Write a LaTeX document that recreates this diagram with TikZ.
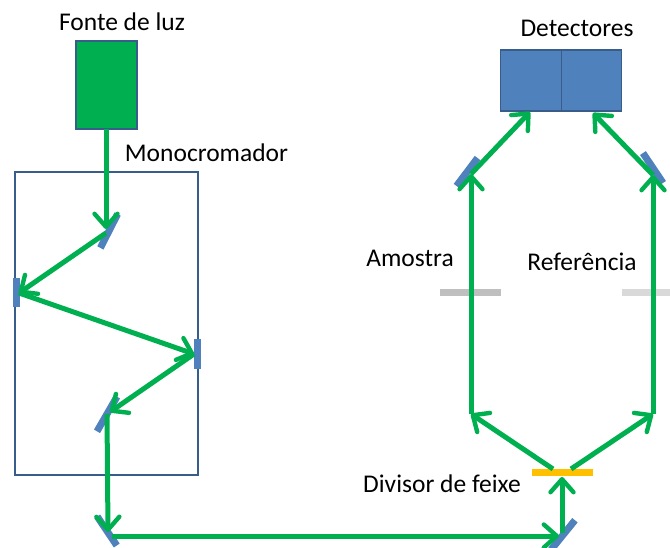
\documentclass[tikz,border=0pt]{standalone}
\usepackage{fontspec}
\setmainfont{Carlito}
\usetikzlibrary{arrows.meta}
\definecolor{beam}{HTML}{00B050}
\definecolor{optic}{HTML}{4F81BD}
\definecolor{edge}{HTML}{385D8A}
\definecolor{split}{HTML}{FFC000}
\definecolor{samplebar}{HTML}{BFBFBF}
\definecolor{refbar}{HTML}{D9D9D9}
\tikzset{
  lbl/.style={inner sep=0pt,font=\fontsize{25.5}{28}\selectfont,text=black},
  mirror/.style={fill=optic,inner sep=0pt,minimum height=7pt,minimum width=#1},
  barshape/.style={inner sep=0pt,minimum height=7pt,minimum width=61pt},
  ray/.style={draw=beam,line width=5pt,-{Straight Barb[length=13pt,width=23pt,line width=4.4pt,round]}},
  frame/.style={draw=edge,line width=1.4pt,inner sep=0pt}
}
\begin{document}
\begin{tikzpicture}[x=1pt,y=-1pt]
\useasboundingbox (0,0) rectangle (670,548);
% boxes
\node[frame,fill=beam,minimum width=61pt,minimum height=88pt] (source) at (106.5,85) {};
\node[frame,minimum width=183pt,minimum height=303pt] (mono) at (106.5,323.5) {};
\node[frame,fill=optic,minimum width=60.5pt,minimum height=61pt] (detA) at (531,80.5) {};
\node[frame,fill=optic,minimum width=60.5pt,minimum height=61pt] (detB) at (591.5,80.5) {};
% optics
\node[mirror=38pt,rotate=63] (m1) at (109,231) {};
\node[mirror=29pt,rotate=90] (m2) at (16,293) {};
\node[mirror=29pt,rotate=90] (m3) at (197,354) {};
\node[mirror=40pt,rotate=60] (m4) at (107,414) {};
\node[mirror=35pt,rotate=-56] (m5) at (107,531) {};
\node[mirror=38pt,rotate=51] (m6) at (563,535) {};
\node[mirror=35pt,rotate=53] (m7) at (467,172) {};
\node[mirror=36pt,rotate=-56] (m8) at (653,168) {};
\node[barshape,fill=split] (divider) at (562.5,472.5) {};
\node[barshape,fill=samplebar] (sample) at (470.5,293) {};
\node[inner sep=0pt,minimum height=7pt,minimum width=48pt,fill=refbar] (reference) at (646,293) {};
% beam points
\coordinate (srcOut) at (106,129);
\coordinate (p1) at (106,229);
\coordinate (p1b) at (106,233);
\coordinate (p2) at (19,293);
\coordinate (p3) at (194,354);
\coordinate (p4) at (110,412);
\coordinate (p4b) at (107,414);
\coordinate (p5) at (108,532);
\coordinate (p5b) at (112,536);
\coordinate (p6) at (559,536);
\coordinate (p6b) at (562,533);
\coordinate (p7) at (562,477);
\coordinate (p8a) at (553,469);
\coordinate (p8b) at (571,469);
\coordinate (p9) at (471,414);
\coordinate (p10) at (653,414);
\coordinate (p11) at (471,174);
\coordinate (p12) at (653,175);
\coordinate (p13) at (530,112);
\coordinate (p14) at (593,113);
% beams
\draw[ray] (srcOut) -- (p1);
\draw[ray] (p1b) -- (p2);
\draw[ray] (p2) -- (p3);
\draw[ray] (p3) -- (p4);
\draw[ray] (p4b) -- (p5);
\draw[ray] (p5b) -- (p6);
\draw[ray] (p6b) -- (p7);
\draw[ray] (p8a) -- (p9);
\draw[ray] (p8b) -- (p10);
\draw[ray] (p9) -- (p11);
\draw[ray] (p10) -- (p12);
\draw[ray] (p11) -- (p13);
\draw[ray] (p12) -- (p14);
% labels
\node[lbl] (lsource) at (122,22) {Fonte de luz};
\node[lbl] (lmono) at (206.5,153) {Monocromador};
\node[lbl] (ldet) at (577,28) {Detectores};
\node[lbl] (lsample) at (410,258) {Amostra};
\node[lbl] (lref) at (582,262) {Referência};
\node[lbl] (ldiv) at (442,484) {Divisor de feixe};
\end{tikzpicture}
\end{document}
